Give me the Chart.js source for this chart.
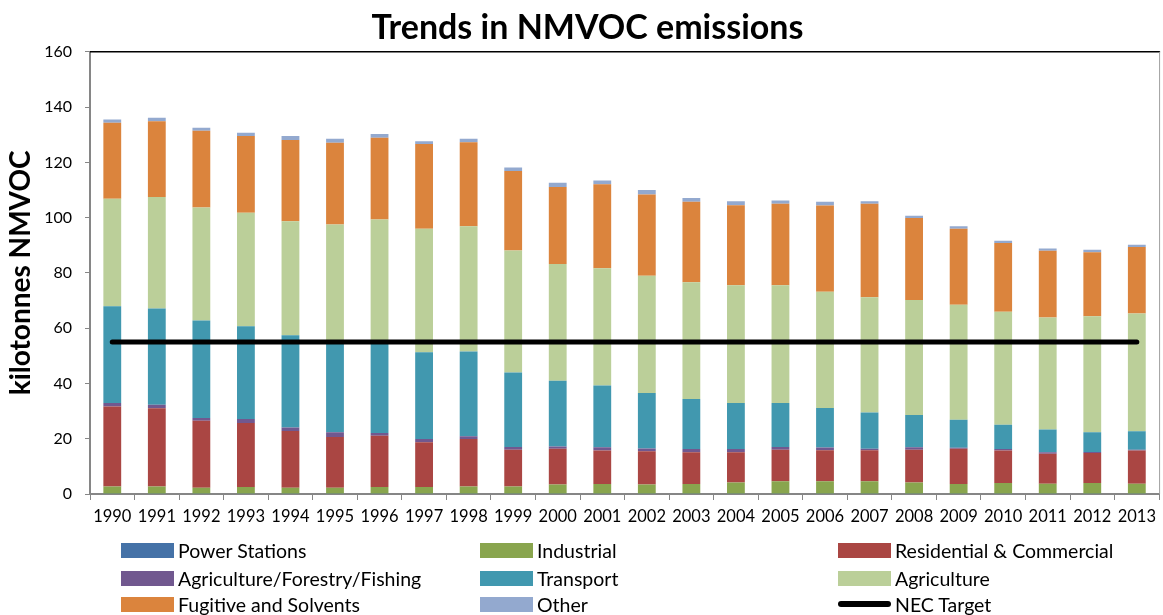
<!DOCTYPE html>
<html>
<head>
<meta charset="utf-8">
<script src="https://cdn.jsdelivr.net/npm/chart.js@4"></script>
<style>
html,body{margin:0;padding:0;background:#fff;}
#wrap{position:relative;width:1163px;height:615px;}
#legend{position:absolute;left:0;top:0;width:1163px;height:615px;pointer-events:none;font-family:Lato,"Open Sans",sans-serif;font-size:19.5px;color:#000;}
.li{position:absolute;display:flex;align-items:center;height:24px;white-space:nowrap;}
.sw{width:53px;height:15px;margin-right:4px;}
.ln{width:53px;height:6px;border-radius:3px;background:#000;margin-right:4px;}
</style>
</head>
<body>
<div id="wrap">
<canvas id="c" width="1163" height="615"></canvas>
<div id="legend"></div>
</div>
<script>
const years = ['1990','1991','1992','1993','1994','1995','1996','1997','1998','1999','2000','2001','2002','2003','2004','2005','2006','2007','2008','2009','2010','2011','2012','2013'];
const yTicks = [0,20,40,60,80,100,120,140,160];

const powerStations = [0.1,0.1,0.1,0.1,0.1,0.1,0.1,0.1,0.1,0.1,0.1,0.1,0.1,0.1,0.1,0.1,0.1,0.1,0.1,0.1,0.1,0.1,0.1,0.1];
const industrial    = [2.6,2.6,2.2,2.4,2.2,2.2,2.4,2.4,2.6,2.6,3.3,3.5,3.3,3.5,4.1,4.5,4.5,4.5,4.1,3.5,3.9,3.6,3.9,3.6];
const residential   = [29.0,28.3,24.2,23.2,20.5,18.3,18.6,16.2,17.2,13.3,13.0,12.1,12.1,11.5,10.9,11.4,11.2,11.2,11.8,12.8,11.7,10.9,10.8,12.0];
const agriForFish   = [1.2,1.3,1.0,1.4,1.3,1.7,1.0,1.2,1.0,1.0,0.8,1.2,1.0,1.2,1.2,1.0,1.0,0.6,0.9,0.3,0.6,0.5,0.4,0.3];
const transport     = [35.0,34.8,35.3,33.6,33.3,32.8,33.0,31.4,30.7,27.0,23.8,22.4,20.0,18.1,16.6,15.9,14.3,13.1,11.7,10.2,8.8,8.2,7.1,6.7];
const agriculture   = [38.9,40.4,40.9,41.1,41.3,42.4,44.2,44.7,45.3,44.1,42.2,42.4,42.5,42.2,42.6,42.6,42.1,41.7,41.6,41.6,40.8,40.6,42.0,42.6];
const fugitive      = [27.5,27.4,27.7,27.7,29.4,29.6,29.6,30.6,30.4,28.8,27.9,30.4,29.4,29.1,29.0,29.5,31.2,33.8,29.7,27.5,24.9,24.1,23.2,24.1];
const other         = [1.2,1.2,1.1,1.2,1.4,1.4,1.4,1.0,1.2,1.2,1.5,1.3,1.6,1.4,1.4,1.2,1.3,0.9,0.8,0.9,0.8,0.8,0.9,0.8];
const necTarget     = [55,55,55,55,55,55,55,55,55,55,55,55,55,55,55,55,55,55,55,55,55,55,55,55];

const FONT = 'Lato, "Open Sans", sans-serif';

function bar(label, data, color){
  return {type:'bar', label, data, backgroundColor:color, borderWidth:0, stack:'s', order:2,
    barPercentage:0.8, categoryPercentage:0.5};
}

const datasets = [
  bar('Power Stations', powerStations, '#4572A7'),
  bar('Industrial', industrial, '#89A54E'),
  bar('Residential & Commercial', residential, '#AA4643'),
  bar('Agriculture/Forestry/Fishing', agriForFish, '#71588F'),
  bar('Transport', transport, '#4198AF'),
  bar('Agriculture', agriculture, '#BBCF99'),
  bar('Fugitive and Solvents', fugitive, '#DB843D'),
  bar('Other', other, '#93A9CF'),
  {type:'line', label:'NEC Target', data:necTarget, borderColor:'#000', backgroundColor:'#000',
   borderWidth:5, borderCapStyle:'round', pointRadius:0, pointHoverRadius:0, stack:'nec', order:0, fill:false}
];

const frame = {
  id:'frame',
  afterDraw(chart){
    const {ctx, chartArea:a} = chart;
    ctx.save();
    ctx.strokeStyle = '#000'; ctx.lineWidth = 1.5;
    ctx.beginPath(); ctx.moveTo(a.left, a.top); ctx.lineTo(a.right+1, a.top); ctx.stroke();
    ctx.strokeStyle = '#a0a0a0'; ctx.lineWidth = 1;
    ctx.beginPath(); ctx.moveTo(a.right+0.5, a.top); ctx.lineTo(a.right+0.5, a.bottom); ctx.stroke();
    ctx.restore();
  }
};

const chart = new Chart(document.getElementById('c'), {
  data:{labels:years, datasets},
  plugins:[frame],
  options:{
    responsive:false, animation:false,
    layout:{padding:{left:14,right:2,top:0,bottom:81}},
    plugins:{
      legend:{display:false},
      tooltip:{enabled:false},
      title:{display:true, text:'Trends in NMVOC emissions', color:'#000',
        font:{family:FONT, size:34, weight:'bold', lineHeight:1.2}, padding:{top:8,bottom:3}}
    },
    scales:{
      x:{stacked:true, offset:true,
        grid:{display:true, drawOnChartArea:false, drawTicks:true, tickLength:6, color:'#868686', offset:true},
        border:{display:true, color:'#868686', width:2},
        ticks:{color:'#000', font:{family:FONT, size:16.5}, maxRotation:0, autoSkip:false, padding:7},
        afterFit(s){ s.height = 40; }
      },
      y:{stacked:true, min:0, max:160,
        afterBuildTicks(s){ s.ticks = yTicks.map(v=>({value:v})); },
        grid:{display:true, drawOnChartArea:false, drawTicks:true, tickLength:5, color:'#868686'},
        border:{display:true, color:'#868686', width:2},
        ticks:{color:'#000', font:{family:FONT, size:16}, padding:13},
        title:{display:true, text:'kilotonnes NMVOC', color:'#000', font:{family:FONT, size:28, weight:'bold'}, padding:{top:-10,bottom:0}},
        afterFit(s){ s.width = 76; }
      }
    }
  }
});

// HTML legend built from the chart's datasets
const legendPos = [
  [121,538],[480,538],[838,538],
  [121,566],[480,566],[838,566],
  [121,592],[480,592],[838,592]
];
const lg = document.getElementById('legend');
chart.data.datasets.forEach((ds,i)=>{
  const d = document.createElement('div');
  d.className='li';
  d.style.left = legendPos[i][0]+'px';
  d.style.top = legendPos[i][1]+'px';
  const sw = document.createElement('span');
  if(ds.type==='line'){ sw.className='ln'; }
  else { sw.className='sw'; sw.style.background = ds.backgroundColor; }
  const t = document.createElement('span');
  t.textContent = ds.label;
  d.appendChild(sw); d.appendChild(t);
  lg.appendChild(d);
});
</script>
</body>
</html>
